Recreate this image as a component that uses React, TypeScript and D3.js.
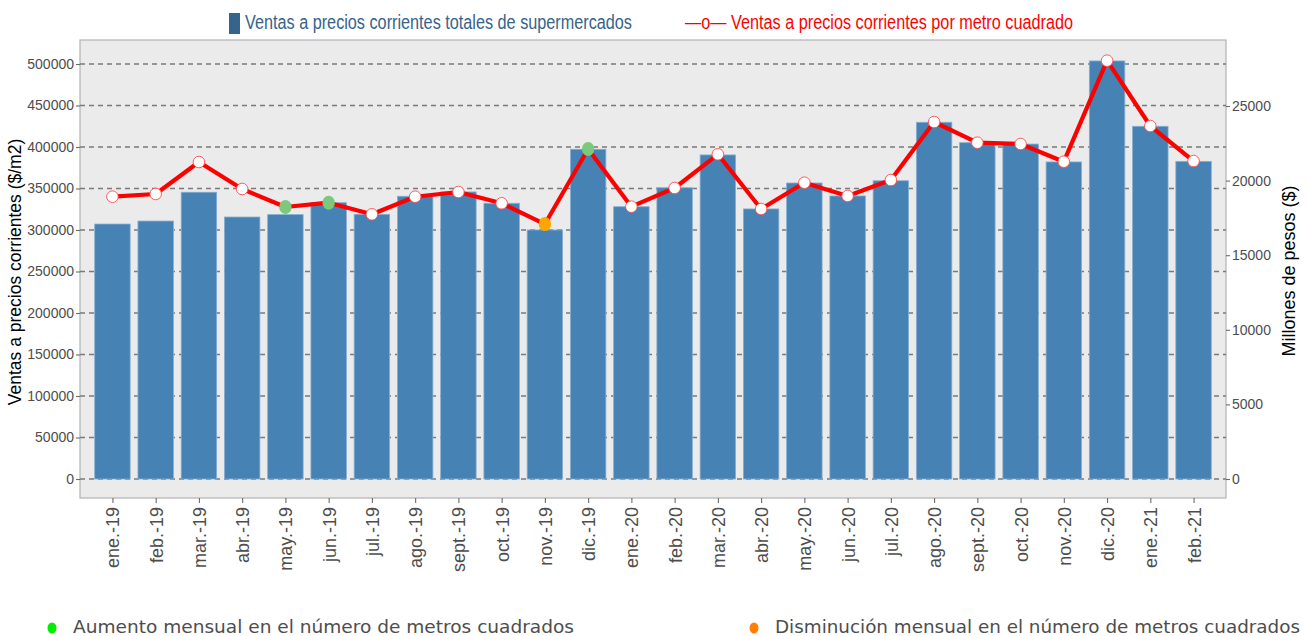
import React from "react";
import * as d3 from "d3";

// months shown on the x axis
const months = [
  "ene.-19", "feb.-19", "mar.-19", "abr.-19", "may.-19", "jun.-19",
  "jul.-19", "ago.-19", "sept.-19", "oct.-19", "nov.-19", "dic.-19",
  "ene.-20", "feb.-20", "mar.-20", "abr.-20", "may.-20", "jun.-20",
  "jul.-20", "ago.-20", "sept.-20", "oct.-20", "nov.-20", "dic.-20",
  "ene.-21", "feb.-21",
];

// ventas totales, millones de pesos (right axis, bars)
const totalSales = [
  17090, 17290, 19220, 17560, 17720, 18520, 17740, 18950, 19240, 18480, 16690, 22100,
  18250, 19520, 21720, 18100, 19840, 18970, 19990, 23910, 22540, 22450, 21250, 28020,
  23640, 21290,
];

// ventas por metro cuadrado, $/m2 (left axis, line)
const salesPerM2 = [
  340100, 343400, 381900, 349400, 327700, 332900, 318900, 340100, 345800, 332200, 307200, 397600,
  328100, 350600, 391200, 325300, 357000, 341000, 360200, 430100, 405200, 403600, 382300, 504000,
  425300, 383100,
];

// monthly change in square meters: "up", "down" or "" (no change)
const m2Change = [
  "", "", "", "", "up", "up", "", "", "", "", "down", "up",
  "", "", "", "", "", "", "", "", "", "", "", "",
  "", "",
];

const leftTicks = [0, 50000, 100000, 150000, 200000, 250000, 300000, 350000, 400000, 450000, 500000];
const rightTicks = [0, 5000, 10000, 15000, 20000, 25000];

const W = 1307;
const H = 636;
const panel = { left: 80, right: 1226, top: 40, bottom: 498 };
const font = "Liberation Sans, Arial, sans-serif";
const tickColor = "#4d4d4d";

export default function App() {
  const leftAxisRef = React.useRef<SVGGElement>(null);
  const rightAxisRef = React.useRef<SVGGElement>(null);
  const xAxisRef = React.useRef<SVGGElement>(null);

  const x = d3.scalePoint<string>().domain(months).range([panel.left, panel.right]).padding(0.75);
  const yLeft = d3.scaleLinear().domain([0, 500000]).range([479, 64]);
  const yRight = d3.scaleLinear().domain([0, 25000]).range([479, 106]);
  const barW = x.step() * 0.82;

  React.useEffect(() => {
    const styleAxis = (g: any) => {
      g.select(".domain").remove();
      g.selectAll(".tick line").attr("stroke", "#6b6b6b").attr("stroke-width", 1.1);
      g.selectAll(".tick text")
        .attr("fill", tickColor)
        .style("font-family", font)
        .style("font-size", "14px");
    };

    d3.select(leftAxisRef.current!)
      .attr("transform", `translate(${panel.left},0)`)
      .call(d3.axisLeft(yLeft).tickValues(leftTicks).tickSize(4).tickPadding(2).tickFormat(d3.format("d")) as any)
      .call(styleAxis);

    d3.select(rightAxisRef.current!)
      .attr("transform", `translate(${panel.right},0)`)
      .call(d3.axisRight(yRight).tickValues(rightTicks).tickSize(4).tickPadding(2).tickFormat(d3.format("d")) as any)
      .call(styleAxis);

    d3.select(xAxisRef.current!)
      .attr("transform", `translate(0,${panel.bottom})`)
      .call(d3.axisBottom(x).tickSize(5) as any)
      .call(styleAxis)
      .selectAll(".tick text")
      .attr("transform", "rotate(-90)")
      .attr("x", -9)
      .attr("y", 0)
      .attr("dy", "0.36em")
      .style("text-anchor", "end")
      .style("font-size", "18px");
  }, []);

  const line = d3
    .line<number>()
    .x((d, i) => x(months[i])!)
    .y((d) => yLeft(d));

  return (
    <svg
      width={W}
      height={H}
      style={{ position: "absolute", left: 0, top: 0, background: "#ffffff" }}
    >
      {/* panel */}
      <rect
        x={panel.left}
        y={panel.top}
        width={panel.right - panel.left}
        height={panel.bottom - panel.top}
        fill="#ebebeb"
        stroke="#b3b3b3"
        strokeWidth={1.2}
      />
      {leftTicks.map((t) => (
        <line
          key={t}
          x1={panel.left}
          x2={panel.right}
          y1={yLeft(t)}
          y2={yLeft(t)}
          stroke="#7a7a7a"
          strokeWidth={1.4}
          strokeDasharray="5,4"
        />
      ))}

      {/* bars */}
      {totalSales.map((v, i) => (
        <rect
          key={months[i]}
          x={x(months[i])! - barW / 2}
          y={yRight(v)}
          width={barW}
          height={yRight(0) - yRight(v)}
          fill="#4682b4"
          stroke="#86aed3"
          strokeWidth={0.8}
        />
      ))}

      {/* line */}
      <path d={line(salesPerM2)!} fill="none" stroke="#ff0000" strokeWidth={4.2} strokeLinejoin="round" />
      {salesPerM2.map((v, i) => {
        const cx = x(months[i])!;
        const cy = yLeft(v);
        if (m2Change[i] === "up")
          return <ellipse key={i} cx={cx} cy={cy} rx={6.2} ry={7} fill="#7cc97c" />;
        if (m2Change[i] === "down")
          return <ellipse key={i} cx={cx} cy={cy} rx={6.2} ry={7} fill="#ffa500" />;
        return <circle key={i} cx={cx} cy={cy} r={5.8} fill="#ffffff" stroke="#ff4d4d" strokeWidth={0.9} />;
      })}

      <g ref={leftAxisRef} />
      <g ref={rightAxisRef} />
      <g ref={xAxisRef} />

      {/* axis titles */}
      <text
        transform="translate(21,272) rotate(-90)"
        textAnchor="middle"
        fontFamily={font}
        fontSize={17.5}
        fill="#000000"
      >
        Ventas a precios corrientes ($/m2)
      </text>
      <text
        transform="translate(1295,271) rotate(-90)"
        textAnchor="middle"
        fontFamily={font}
        fontSize={18}
        fill="#000000"
      >
        Millones de pesos ($)
      </text>

      {/* top legend */}
      <rect x={229} y={13} width={11} height={21} fill="#36648b" />
      <text
        x={245}
        y={29}
        fontFamily="Liberation Sans Narrow, Arial Narrow, sans-serif"
        fontSize={19.5}
        fill="#36648b"
        textLength={387}
        lengthAdjust="spacingAndGlyphs"
      >
        Ventas a precios corrientes totales de supermercados
      </text>
      <text
        x={685}
        y={29}
        fontFamily="Liberation Sans Narrow, Arial Narrow, sans-serif"
        fontSize={19.5}
        fill="#ff0000"
        textLength={388}
        lengthAdjust="spacingAndGlyphs"
      >
        —o— Ventas a precios corrientes por metro cuadrado
      </text>

      {/* bottom legend */}
      <ellipse cx={52} cy={628} rx={4.5} ry={5.5} fill="#00ee00" />
      <text
        x={73}
        y={633}
        fontFamily="DejaVu Sans, sans-serif"
        fontSize={18}
        fill="#4d4d4d"
        textLength={501}
        lengthAdjust="spacingAndGlyphs"
      >
        Aumento mensual en el número de metros cuadrados
      </text>
      <ellipse cx={754} cy={628} rx={4.5} ry={5.5} fill="#ff7f00" />
      <text
        x={775}
        y={633}
        fontFamily="DejaVu Sans, sans-serif"
        fontSize={18}
        fill="#4d4d4d"
        textLength={525}
        lengthAdjust="spacingAndGlyphs"
      >
        Disminución mensual en el número de metros cuadrados
      </text>
    </svg>
  );
}
